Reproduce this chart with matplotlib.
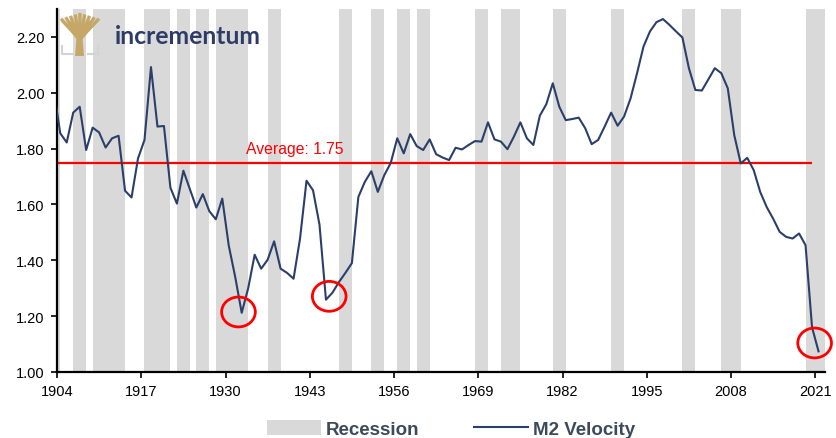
import matplotlib
matplotlib.use("Agg")
import matplotlib.pyplot as plt
import numpy as np
from matplotlib.patches import Ellipse, Patch, Polygon
from matplotlib.lines import Line2D

# ---------------- data ----------------
years = list(range(1903, 2022))
m2_velocity = [
    2.01,                                                   # 1903
    1.855, 1.822, 1.929, 1.950, 1.795, 1.875, 1.858, 1.804, 1.837, 1.846,   # 1904-1913
    1.649, 1.625, 1.765, 1.831, 2.092, 1.879, 1.881, 1.660, 1.603, 1.721,   # 1914-1923
    1.655, 1.589, 1.637, 1.576, 1.547, 1.621, 1.453, 1.340, 1.212, 1.300,   # 1924-1933
    1.420, 1.370, 1.402, 1.468, 1.370, 1.355, 1.334, 1.478, 1.685, 1.651,   # 1934-1943
    1.528, 1.259, 1.284, 1.322, 1.355, 1.390, 1.627, 1.681, 1.719, 1.645,   # 1944-1953
    1.705, 1.749, 1.837, 1.783, 1.852, 1.809, 1.795, 1.833, 1.780, 1.768,   # 1954-1963
    1.759, 1.803, 1.797, 1.813, 1.827, 1.825, 1.894, 1.833, 1.825, 1.798,   # 1964-1973
    1.843, 1.894, 1.837, 1.813, 1.918, 1.959, 2.034, 1.950, 1.902, 1.906,   # 1974-1983
    1.911, 1.873, 1.816, 1.831, 1.879, 1.929, 1.882, 1.915, 1.980, 2.070,   # 1984-1993
    2.166, 2.220, 2.253, 2.264, 2.243, 2.220, 2.198, 2.088, 2.010, 2.008,   # 1994-2003
    2.048, 2.088, 2.070, 2.016, 1.848, 1.747, 1.767, 1.723, 1.645, 1.591,   # 2004-2013
    1.549, 1.502, 1.484, 1.478, 1.496, 1.454, 1.160, 1.074,                 # 2014-2021
]
recession_years = [1904, 1907, 1908, 1910, 1911, 1912, 1913, 1914, 1918, 1919,
                   1920, 1921, 1923, 1924, 1926, 1927, 1929, 1930, 1931, 1932,
                   1933, 1937, 1938, 1948, 1949, 1953, 1954, 1957, 1958, 1960,
                   1961, 1969, 1970, 1973, 1974, 1975, 1981, 1982, 1990, 1991,
                   2001, 2002, 2007, 2008, 2009, 2020, 2021, 2022]
average_value = 1.75
average_label = "Average: 1.75"
x_ticks = [1904, 1917, 1930, 1943, 1956, 1969, 1982, 1995, 2008, 2021]
y_ticks = [1.00, 1.20, 1.40, 1.60, 1.80, 2.00, 2.20]
highlight_points = [(1932, 1.215), (1946, 1.271), (2020.9, 1.104)]

# ---------------- style ----------------
plt.rcParams['font.family'] = ['Liberation Sans', 'DejaVu Sans']
NAVY = '#2b3f6b'
GRAY = '#d9d9d9'
RED = '#ff0000'
GOLD = '#c5a867'

W, H = 836, 439
fig = plt.figure(figsize=(W / 100, H / 100), dpi=100)
ax_l, ax_r, ax_b, ax_t = 57, 825, 373, 10
ax = fig.add_axes([ax_l / W, (H - ax_b) / H, (ax_r - ax_l) / W, (ax_b - ax_t) / H])

ymin, ymax = 1.0, 2.30
ax.bar(recession_years, [ymax - ymin] * len(recession_years), bottom=ymin,
       width=1.0, color=GRAY, linewidth=0, zorder=1)

xs = np.array(years) + 0.5  # annual values plotted at mid-year
ax.plot(xs, m2_velocity, color=NAVY, lw=1.5, zorder=3, solid_joinstyle='round')
ax.hlines(average_value, 1903.5, 2020.5, color=RED, lw=1.6, zorder=2)
ax.text(1933.2, average_value + 0.05, average_label, color=RED, fontsize=11.3,
        ha='left', va='center', zorder=4)

for cx, cy in highlight_points:
    ax.add_patch(Ellipse((cx, cy), width=5.2, height=0.107, fill=False,
                         edgecolor=RED, lw=2.0, zorder=5, clip_on=False))

ax.set_xlim(1904, 2022.5)
ax.set_ylim(ymin, ymax)
ax.set_xticks(x_ticks)
ax.set_xticklabels([str(t) for t in x_ticks])
ax.set_yticks(y_ticks)
ax.set_yticklabels([f"{v:.2f}" for v in y_ticks])
for s in ['top', 'right']:
    ax.spines[s].set_visible(False)
for s in ['left', 'bottom']:
    ax.spines[s].set_linewidth(1.6)
    ax.spines[s].set_color('black')
ax.tick_params(axis='both', direction='out', length=4, width=1.2,
               labelsize=10.5, colors='black', pad=5)

# ---------------- logo ----------------
lax = fig.add_axes([58 / W, (H - 59) / H, 44 / W, 46 / H])
lax.set_xlim(0, 44)
lax.set_ylim(0, 46)
lax.axis('off')
# gray bracket
lax.plot([4, 4, 14], [12, 4, 4], color='#d3d3d3', lw=1.5)
lax.plot([30, 40, 40], [4, 4, 12], color='#d3d3d3', lw=1.5)
# trunk
lax.add_patch(Polygon([[17, 2], [26, 2], [24.5, 20], [18.5, 20]], closed=True,
                      color=GOLD, lw=0))
# branches
for tip in np.linspace(3, 41, 9):
    mid_x = 21.5 + (tip - 21.5) * 0.45
    lax.plot([21.5, mid_x, tip], [18, 28, 45 - abs(tip - 22) * 0.3],
             color=GOLD, lw=2.4, solid_capstyle='butt')
for tip in np.linspace(5, 38, 6):
    lax.plot([21.5 + (tip - 21.5) * 0.3, tip], [24, 36], color=GOLD, lw=1.8)
fig.text(115 / W, 1 - 37 / H, "incrementum", fontsize=17.8, fontweight='bold',
         color='#2c3c66', ha='left', va='center', family=['Lato', 'DejaVu Sans'])

# ---------------- legend ----------------
handles = [Patch(facecolor=GRAY, edgecolor='none'),
           Line2D([0], [0], color=NAVY, lw=1.5)]
leg = fig.legend(handles, ['Recession', 'M2 Velocity'], loc='center',
                 bbox_to_anchor=(451 / W, 1 - 430 / H), ncol=2, frameon=False,
                 handlelength=2.9, handleheight=0.9, handletextpad=0.25,
                 columnspacing=2.9, borderaxespad=0, borderpad=0,
                 prop={'weight': 'bold', 'size': 13.5})
for t in leg.get_texts():
    t.set_color('#3d4a5c')

fig.savefig('out.png', dpi=100)
